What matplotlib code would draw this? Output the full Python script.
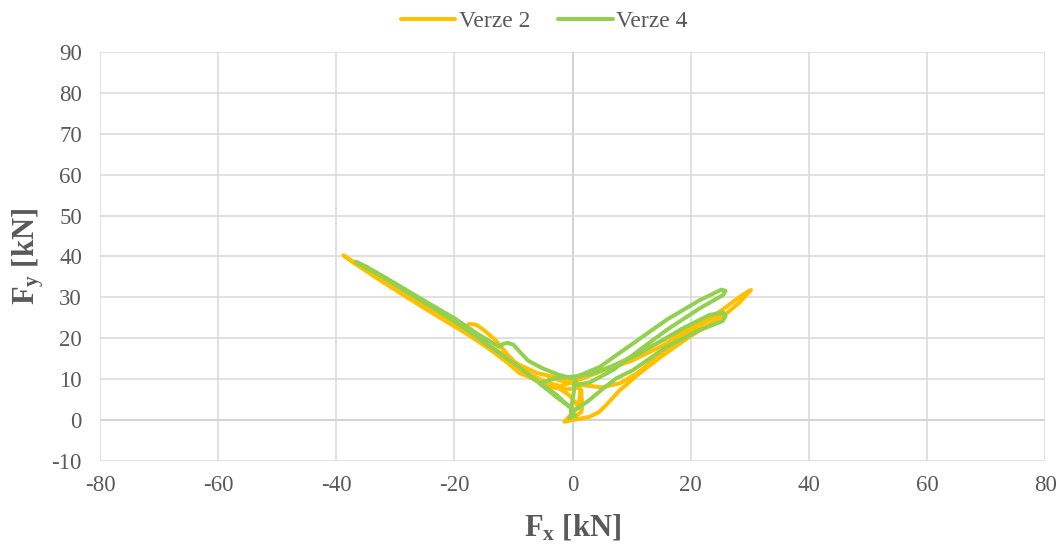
import matplotlib
matplotlib.use("Agg")
import matplotlib.pyplot as plt

plt.rcParams['font.family'] = ['Liberation Serif', 'DejaVu Serif']
plt.rcParams['mathtext.fontset'] = 'custom'
plt.rcParams['mathtext.bf'] = 'Liberation Serif:bold'
plt.rcParams['mathtext.rm'] = 'Liberation Serif'
plt.rcParams['axes.unicode_minus'] = False

# Verze 2 (orange) path
v2_x = [0.0, 1.5, 1.5, 1.2, -1.0, -3.5, -6.0, -9.0, -12.0, -15.0, -17.0, -18.2, -17.5, -16.3, -15.0,
        -13.0, -11.0, -9.0, -7.0, -4.0, -2.0, 1.7, 5.0, 10.0, 15.0, 20.0, 23.0, 25.4, 24.0, 20.0, 15.0,
        10.0, 6.5, 4.6, 2.0, 0.0, -3.0, -6.0, -9.0, -13.0, -17.0, -22.0, -27.0, -32.0, -36.0, -38.8,
        -37.0, -33.0, -28.0, -23.0, -18.0, -14.0, -11.0, -9.0, -6.0, -3.0, -0.5, 1.5, 1.5, 0.8, -1.4,
        1.0, 2.9, 4.5, 5.7, 8.0, 11.3, 15.0, 19.8, 23.0, 26.0, 28.3, 30.2, 29.0, 28.3, 25.0, 20.0,
        15.0, 11.0, 8.0, 5.0, 2.0, -1.0, -4.0]
v2_y = [0.5, 2.0, 5.0, 8.0, 7.5, 8.0, 9.5, 12.0, 15.5, 19.0, 21.5, 22.8, 23.5, 23.3, 22.0,
        19.5, 16.0, 13.0, 11.0, 9.0, 8.3, 10.2, 12.0, 14.5, 18.0, 22.0, 24.5, 26.5, 25.8, 22.8, 19.3,
        15.5, 13.0, 12.2, 11.0, 10.0, 10.5, 11.5, 13.5, 17.2, 20.8, 25.0, 29.3, 33.8, 37.6, 40.3,
        38.4, 34.6, 30.0, 25.5, 21.2, 17.3, 14.0, 11.5, 9.8, 8.5, 6.0, 2.5, 7.3, 3.0, -0.4,
        0.3, 0.8, 2.0, 3.7, 7.3, 11.4, 15.5, 20.4, 23.2, 26.0, 28.8, 31.8, 30.8, 30.1, 26.6, 21.5,
        16.2, 11.5, 9.0, 8.0, 8.5, 9.2, 10.5]

# Verze 4 (green) path
v4_x = [0.0, -0.5, 0.3, -1.5, -3.0, -5.6, -2.5, 0.0, 3.0, 5.7, 8.5, 11.3, 14.7, 18.6, 23.2, 25.5, 25.9,
        25.4, 21.5, 15.9, 10.2, 7.4, 5.0, 2.5, 0.3, -2.8, -6.0, -10.0, -14.0, -18.0, -22.0, -27.0, -32.0,
        -36.7, -35.0, -30.0, -25.0, -20.0, -16.0, -12.4, -11.8, -11.0, -10.0, -9.0, -7.5, -5.0, -2.2,
        0.0, 4.6, 10.2, 15.9, 21.5, 25.2, 25.9, 25.5, 21.5, 15.9, 11.3, 6.8, 2.9, 0.2, 0.5, 0.0, -0.3, 0.5]
v4_y = [1.0, 0.5, 2.4, 4.5, 6.5, 9.0, 10.4, 10.6, 11.2, 12.6, 14.3, 16.3, 19.1, 22.4, 25.7, 26.3, 25.4,
        24.2, 22.0, 17.9, 12.2, 10.2, 7.5, 4.5, 2.4, 5.7, 9.5, 14.0, 18.0, 22.2, 26.0, 30.4, 34.9,
        38.7, 37.6, 33.4, 29.1, 24.9, 21.0, 17.9, 18.6, 18.9, 18.4, 16.8, 14.5, 12.6, 11.0,
        10.2, 13.0, 18.7, 24.5, 29.3, 31.9, 31.6, 30.6, 27.3, 22.0, 17.1, 12.2, 9.2, 8.5, 9.5, 5.0, 2.0, 1.0]

x_ticks = list(range(-80, 81, 20))
y_ticks = list(range(-10, 91, 10))

fig = plt.figure(figsize=(10.61, 5.44), dpi=100)
ax = fig.add_axes([0.0943, 0.1526, 0.8907, 0.7518])

ax.plot(v2_x, v2_y, color='#FFC000', lw=2.9, solid_joinstyle='round', solid_capstyle='round',
        label='Verze 2', zorder=3)
ax.plot(v4_x, v4_y, color='#92D050', lw=2.9, solid_joinstyle='round', solid_capstyle='round',
        label='Verze 4', zorder=4)

ax.set_xlim(-80, 80)
ax.set_ylim(-10, 90)
ax.set_xticks(x_ticks)
ax.set_yticks(y_ticks)
ax.grid(True, color='#D9D9D9', lw=1.1, zorder=0)
ax.axhline(0, color='#BFBFBF', lw=1.4, zorder=1)
ax.axvline(0, color='#BFBFBF', lw=1.4, zorder=1)
for s in ax.spines.values():
    s.set_visible(False)
ax.tick_params(length=0, labelsize=16.5, colors='#595959')
ax.tick_params(axis='y', pad=13)
ax.tick_params(axis='x', pad=10)

ax.set_xlabel(r'$\mathbf{F_{x}}$ [kN]', fontsize=22, fontweight='bold', color='#595959', labelpad=12)
ax.set_ylabel(r'$\mathbf{F_{y}}$ [kN]', fontsize=22, fontweight='bold', color='#595959', labelpad=4)

fig.legend(loc='upper center', bbox_to_anchor=(0.513, 1.02), ncol=2, frameon=False, fontsize=17,
           handlelength=2.3, handletextpad=0.15, columnspacing=1.2, labelcolor='#595959')

fig.savefig('out.png', dpi=100)
